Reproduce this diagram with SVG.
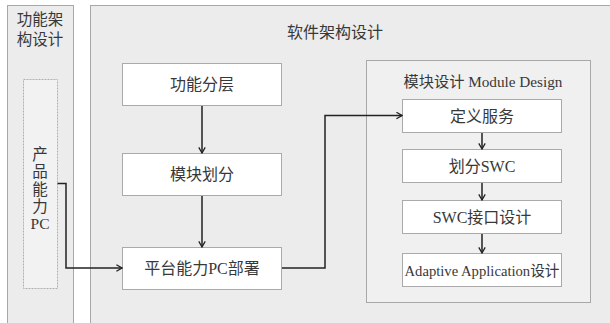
<svg xmlns="http://www.w3.org/2000/svg" width="610" height="323" viewBox="0 0 610 323">
<defs>
<style>
.panel{fill:#ececec;stroke:#a8a8a8;stroke-width:1}
.box{fill:#ffffff;stroke:#aaaaaa;stroke-width:1}
.t{font-family:"Liberation Serif","Noto Sans CJK SC",serif;fill:#383838;text-anchor:middle}
.c{fill:none;stroke:#222222;stroke-width:1.5;marker-end:url(#ah)}
</style>
<marker id="ah" viewBox="0 0 10 10" refX="9" refY="5" markerWidth="8" markerHeight="8" markerUnits="userSpaceOnUse" orient="auto">
<polyline points="2,1 9,5 2,9" fill="none" stroke="#222222" stroke-width="1.6"/>
</marker>
</defs>
<rect width="610" height="323" fill="#ffffff"/>
<g id="panel-func">
<rect class="panel" x="7.5" y="5.5" width="66" height="330"/>
<text class="t" x="40" y="25" font-size="15.5">功能架</text>
<text class="t" x="40" y="45" font-size="15.5">构设计</text>
</g>
<g id="panel-sw">
<rect class="panel" x="90.5" y="5.5" width="530" height="330"/>
<text class="t" x="335" y="38" font-size="16">软件架构设计</text>
</g>
<g id="node-pc">
<rect x="23.5" y="79.5" width="34" height="209" fill="#f2f2f2" stroke="#b0b0b0" stroke-dasharray="2,1"/>
<text class="t" x="40" y="160" font-size="15.5">产</text>
<text class="t" x="40" y="177" font-size="15.5">品</text>
<text class="t" x="40" y="195" font-size="15.5">能</text>
<text class="t" x="40" y="212" font-size="15.5">力</text>
<text class="t" x="40" y="229" font-size="15.5">PC</text>
</g>
<g id="node-layer">
<rect class="box" x="122.5" y="63.5" width="159" height="42"/>
<text class="t" x="202" y="90" font-size="16">功能分层</text>
</g>
<g id="node-module">
<rect class="box" x="122.5" y="153.5" width="159" height="42"/>
<text class="t" x="202" y="180" font-size="16">模块划分</text>
</g>
<g id="node-deploy">
<rect class="box" x="122.5" y="247.5" width="159" height="42"/>
<text class="t" x="202" y="274" font-size="16">平台能力PC部署</text>
</g>
<g id="module-design">
<rect x="366.5" y="60.5" width="224" height="242" fill="#f0f0f0" stroke="#a8a8a8"/>
<text class="t" x="483" y="87" font-size="15" textLength="159" lengthAdjust="spacingAndGlyphs">模块设计 Module Design</text>
</g>
<g id="node-service">
<rect class="box" x="402.5" y="99.5" width="159" height="33"/>
<text class="t" x="482" y="121.5" font-size="16">定义服务</text>
</g>
<g id="node-swc">
<rect class="box" x="402.5" y="149.5" width="159" height="33"/>
<text class="t" x="482" y="171.5" font-size="16">划分SWC</text>
</g>
<g id="node-if">
<rect class="box" x="402.5" y="200.5" width="159" height="33"/>
<text class="t" x="482" y="222.5" font-size="16">SWC接口设计</text>
</g>
<g id="node-aa">
<rect class="box" x="402.5" y="253.5" width="159" height="33"/>
<text class="t" x="482" y="275.5" font-size="15" textLength="155" lengthAdjust="spacingAndGlyphs">Adaptive Application设计</text>
</g>
<g id="connectors">
<path class="c" d="M202 106 V153"/>
<path class="c" d="M202 196 V247"/>
<path class="c" d="M57.5 183.5 H66 V268 H122"/>
<path class="c" d="M282 268 H325 V115.5 H402"/>
<path class="c" d="M482 133 V149"/>
<path class="c" d="M482 183 V200"/>
<path class="c" d="M482 234 V253"/>
</g>
</svg>
